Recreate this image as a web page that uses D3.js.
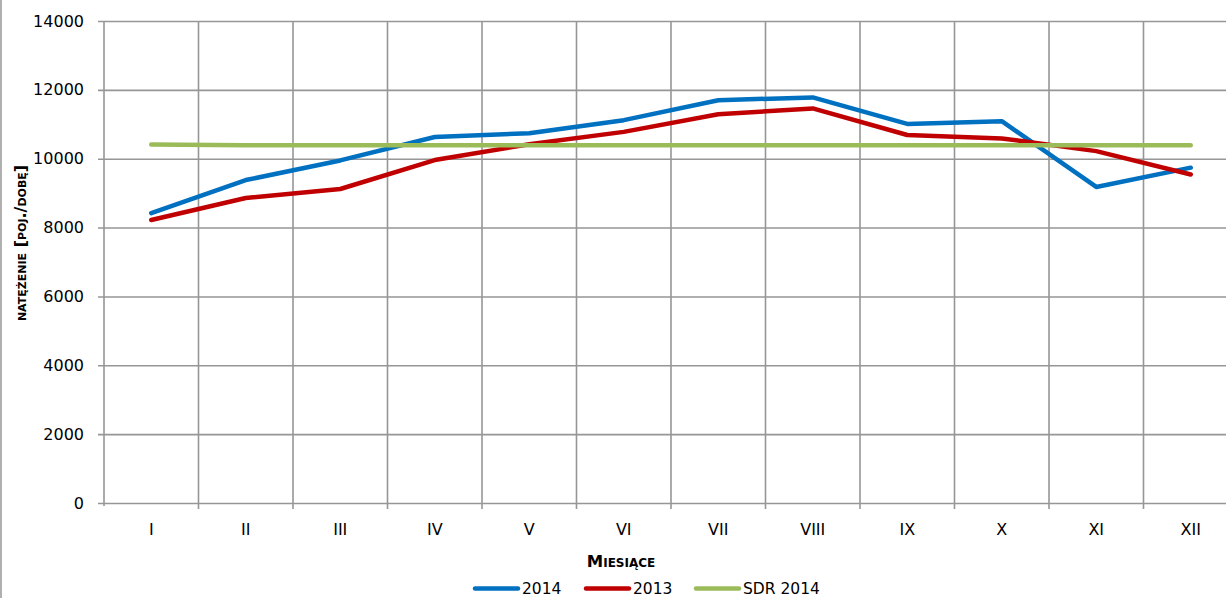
<!DOCTYPE html>
<html>
<head>
<meta charset="utf-8">
<script src="https://cdn.jsdelivr.net/npm/d3@7"></script>
<style>
  body { margin: 0; background: #fff; overflow: hidden; }
  svg text { font-family: "DejaVu Sans", sans-serif; fill: #000; }
</style>
</head>
<body>
<div id="graph-container"></div>
<script>
const months = ['I', 'II', 'III', 'IV', 'V', 'VI', 'VII', 'VIII', 'IX', 'X', 'XI', 'XII'];
const values2014 = [8420, 9380, 9950, 10630, 10740, 11120, 11700, 11780, 11010, 11090, 9180, 9740];
const values2013 = [8220, 8860, 9120, 9960, 10420, 10780, 11290, 11460, 10690, 10590, 10220, 9540];
const valuesSdr2014 = [10410, 10390, 10390, 10390, 10390, 10390, 10390, 10390, 10390, 10390, 10390, 10390];
const yTicks = [0, 2000, 4000, 6000, 8000, 10000, 12000, 14000];

const seriesList = [
  {name: '2014', values: values2014, color: '#0070C0'},
  {name: '2013', values: values2013, color: '#C00000'},
  {name: 'SDR 2014', values: valuesSdr2014, color: '#9BBB59'}
];

const WIDTH = 1226;
const HEIGHT = 598;
const PLOT_LEFT = 104;
const PLOT_RIGHT = 1238; // plot runs past the right edge in the original
const PLOT_TOP = 21;
const PLOT_BOTTOM = 503;
const GRID = '#969696';

const svg = d3.select('#graph-container')
              .append('svg')
              .attr('width', WIDTH)
              .attr('height', HEIGHT);

// chart border, only the left side is visible
svg.append('line')
   .attr('x1', 1).attr('x2', 1)
   .attr('y1', 0).attr('y2', HEIGHT)
   .attr('stroke', GRID)
   .attr('stroke-width', 1.5);

const xScale = d3.scaleBand()
                 .domain(months)
                 .range([PLOT_LEFT, PLOT_RIGHT])
                 .padding(0);

const yScale = d3.scaleLinear()
                 .domain([0, 14000])
                 .range([PLOT_BOTTOM, PLOT_TOP]);

const xMid = m => xScale(m) + xScale.bandwidth() / 2;

// horizontal gridlines + y axis
const yAxis = d3.axisLeft(yScale)
                .tickValues(yTicks)
                .tickSize(-(PLOT_RIGHT - PLOT_LEFT))
                .tickFormat(d3.format('d'))
                .tickPadding(20);

const yAx = svg.append('g')
               .attr('transform', `translate(${PLOT_LEFT}, 0)`)
               .call(yAxis);
yAx.select('.domain').remove();
yAx.selectAll('line')
   .attr('x1', -6)
   .attr('stroke', GRID)
   .attr('stroke-width', 1.6);
yAx.selectAll('text')
   .style('font-size', '16px');

// vertical gridlines at band edges (tick marks drop below the axis)
const edges = months.map(m => xScale(m)).concat([PLOT_RIGHT]);
svg.append('g')
   .selectAll('line')
   .data(edges)
   .enter()
   .append('line')
   .attr('x1', d => d).attr('x2', d => d)
   .attr('y1', PLOT_TOP)
   .attr('y2', (d, i) => i === 0 ? PLOT_BOTTOM + 3 : PLOT_BOTTOM + 6)
   .attr('stroke', GRID)
   .attr('stroke-width', 1.6);

// x axis labels
const xAxis = d3.axisBottom(xScale)
                .tickSize(0)
                .tickPadding(21);
const xAx = svg.append('g')
               .attr('transform', `translate(0, ${PLOT_BOTTOM})`)
               .call(xAxis);
xAx.select('.domain').remove();
xAx.selectAll('text')
   .style('font-size', '16px');

// lines
const lineGen = d3.line()
                  .x((d, i) => xMid(months[i]))
                  .y(d => yScale(d));

svg.selectAll('path.series')
   .data(seriesList)
   .enter()
   .append('path')
   .attr('class', 'series')
   .attr('d', d => lineGen(d.values))
   .attr('fill', 'none')
   .attr('stroke', d => d.color)
   .attr('stroke-width', 4.5)
   .attr('stroke-linejoin', 'round')
   .attr('stroke-linecap', 'round');

// axis titles
svg.append('text')
   .attr('x', 621)
   .attr('y', 567)
   .attr('text-anchor', 'middle')
   .style('font-size', '16.5px')
   .style('font-weight', 'bold')
   .style('font-variant', 'small-caps')
   .text('Miesiące');

svg.append('text')
   .attr('transform', 'translate(26, 243) rotate(-90)')
   .attr('text-anchor', 'middle')
   .style('font-size', '16px')
   .style('font-weight', 'bold')
   .style('font-variant', 'small-caps')
   .text('natężenie [poj./dobę]');

// legend
const legendX = [475, 586, 696];
const legend = svg.selectAll('g.legend')
                  .data(seriesList)
                  .enter()
                  .append('g')
                  .attr('class', 'legend')
                  .attr('transform', (d, i) => `translate(${legendX[i]}, 588.5)`);

legend.append('line')
      .attr('x1', 0).attr('x2', 43)
      .attr('stroke', d => d.color)
      .attr('stroke-width', 4.5)
      .attr('stroke-linecap', 'round');

legend.append('text')
      .attr('x', 47)
      .attr('y', 5.5)
      .style('font-size', '15.5px')
      .text(d => d.name);
</script>
</body>
</html>
